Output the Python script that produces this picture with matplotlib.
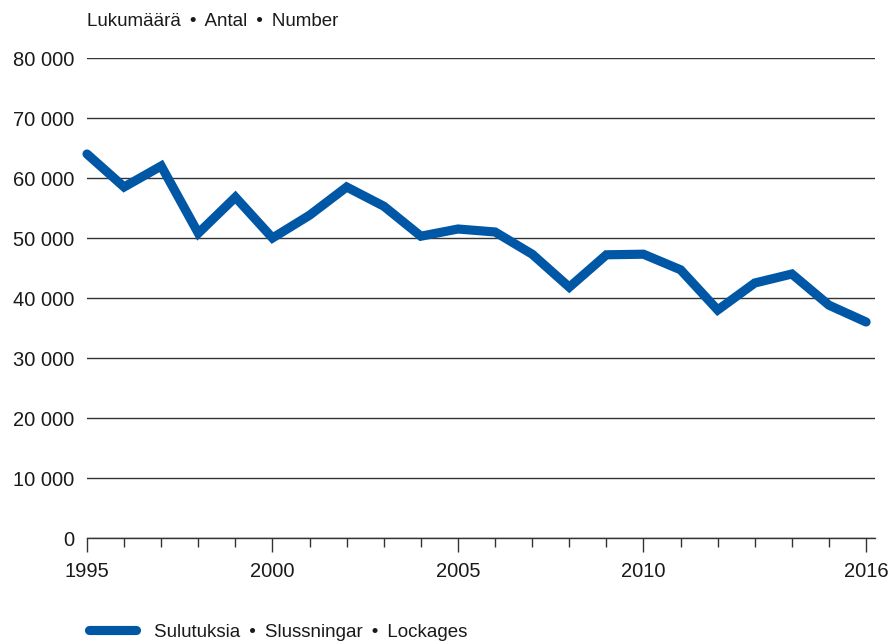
import matplotlib
matplotlib.use("Agg")
import matplotlib.pyplot as plt
from matplotlib.ticker import FixedLocator, FuncFormatter

years = list(range(1995, 2017))
lockages = [64000, 58500, 62000, 50800, 56800, 50000, 53800, 58500, 55300, 50300,
            51500, 51000, 47300, 41800, 47200, 47300, 44700, 38000, 42500, 44000,
            38800, 36000]
major_years = [1995, 2000, 2005, 2010, 2016]
y_ticks = [0, 10000, 20000, 30000, 40000, 50000, 60000, 70000, 80000]
unit_label = "Lukumäärä \u2009\u2022\u2009 Antal \u2009\u2022\u2009 Number"
legend_label = "Sulutuksia \u2009\u2022\u2009 Slussningar \u2009\u2022\u2009 Lockages"

plt.rcParams['font.family'] = ['Liberation Sans', 'DejaVu Sans']

fig = plt.figure(figsize=(8.9, 6.42), dpi=100)
ax = fig.add_axes([87/890, 1-538/642, (875-87)/890, (538-58)/642])

line_color = '#0057A5'
line, = ax.plot(years, lockages, color=line_color, lw=6.6, solid_joinstyle='miter',
                solid_capstyle='round', zorder=3, clip_on=False)

ax.set_xlim(1995, 2016.24)
ax.set_ylim(0, 80000)

ax.yaxis.set_major_locator(FixedLocator(y_ticks))
ax.yaxis.set_major_formatter(FuncFormatter(lambda v, p: f"{int(v):,}".replace(",", " ")))
ax.grid(axis='y', color='#333333', lw=1)
ax.set_axisbelow(True)

ax.xaxis.set_major_locator(FixedLocator(major_years))
ax.xaxis.set_minor_locator(FixedLocator(years))
ax.tick_params(axis='x', which='major', length=10, width=1, color='#333333',
               labelsize=14.5, pad=7, direction='out')
ax.tick_params(axis='x', which='minor', length=6.5, width=1, color='#333333')
ax.tick_params(axis='y', length=0, labelsize=14.5, pad=9)

for s in ['top', 'right', 'left']:
    ax.spines[s].set_visible(False)
ax.spines['bottom'].set_color('#333333')
ax.spines['bottom'].set_linewidth(1)

for lbl in ax.get_xticklabels() + ax.get_yticklabels():
    lbl.set_color('#1a1a1a')

fig.text(87/890, 1-21/642, unit_label, fontsize=13.5, va='center', ha='left', color='#1a1a1a')

leg = fig.legend([line], [legend_label], loc='center left',
                 bbox_to_anchor=(72/890, 1-632/642), frameon=False,
                 fontsize=13.5, handlelength=2.5, handletextpad=0.95)
for t in leg.get_texts():
    t.set_color('#1a1a1a')

fig.savefig("out.png", dpi=100)
